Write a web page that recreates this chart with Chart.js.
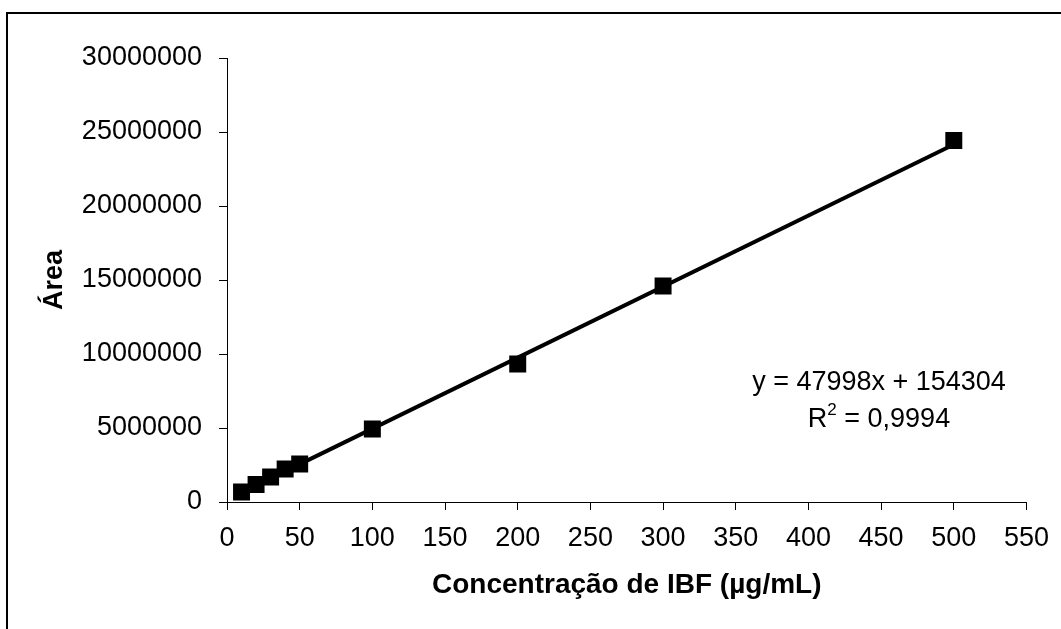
<!DOCTYPE html>
<html>
<head>
<meta charset="utf-8">
<script src="https://cdn.jsdelivr.net/npm/chart.js@4"></script>
<style>
  body { margin: 0; background: #fff; }
  #curva { display: block; }
</style>
</head>
<body>
<canvas id="curva" width="1061" height="629"></canvas>
<script>
// Curva de calibração - IBF
const concentracao = [10, 20, 30, 40, 50, 100, 200, 300, 500];
const area = [680000, 1180000, 1690000, 2230000, 2570000, 4930000, 9320000, 14600000, 24430000];

// linha de tendência (equação mostrada no gráfico)
const inclinacao = 47998;
const intercepto = 154304;
const r2Texto = "0,9994";
const trendX = [10, 500];

const fonte = "'Liberation Sans', Arial, sans-serif";

const pontos = concentracao.map((c, i) => ({ x: c, y: area[i] }));
const tendencia = trendX.map((x) => ({ x: x, y: inclinacao * x + intercepto }));

// moldura e equação
const extras = {
  id: "extras",
  beforeDraw(chart) {
    const ctx = chart.ctx;
    ctx.save();
    ctx.fillStyle = "#fff";
    ctx.fillRect(0, 0, chart.width, chart.height);
    ctx.strokeStyle = "#000";
    ctx.lineWidth = 2;
    ctx.strokeRect(7, 13, 1200, 800);
    ctx.restore();
  },
  afterDraw(chart) {
    const ctx = chart.ctx;
    ctx.save();
    ctx.fillStyle = "#000";
    ctx.textBaseline = "middle";
    ctx.textAlign = "center";
    ctx.font = "27px " + fonte;
    ctx.fillText("y = " + inclinacao + "x + " + intercepto, 879, 383);

    // R² com expoente
    const resto = " = " + r2Texto;
    const wR = ctx.measureText("R").width;
    const wResto = ctx.measureText(resto).width;
    ctx.font = "17px " + fonte;
    const w2 = ctx.measureText("2").width;
    const total = wR + w2 + wResto;
    let x = 879 - total / 2;
    ctx.textAlign = "left";
    ctx.font = "27px " + fonte;
    ctx.fillText("R", x, 420);
    ctx.font = "17px " + fonte;
    ctx.fillText("2", x + wR, 410);
    ctx.font = "27px " + fonte;
    ctx.fillText(resto, x + wR + w2, 420);
    ctx.restore();
  },
};

new Chart(document.getElementById("curva"), {
  type: "scatter",
  data: {
    datasets: [
      {
        type: "line",
        data: tendencia,
        borderColor: "#000",
        borderWidth: 4,
        pointRadius: 0,
        fill: false,
        order: 2,
      },
      {
        data: pontos,
        pointStyle: "rect",
        pointRadius: 12,
        backgroundColor: "#000",
        borderColor: "#000",
        borderWidth: 0,
        order: 1,
      },
    ],
  },
  options: {
    responsive: false,
    animation: false,
    layout: {
      padding: { left: 0, top: 58, right: 34, bottom: 0 },
    },
    plugins: {
      legend: { display: false },
      tooltip: { enabled: false },
    },
    scales: {
      x: {
        type: "linear",
        min: 0,
        max: 550,
        afterFit(scale) {
          scale.height = 127;
        },
        ticks: {
          stepSize: 50,
          color: "#000",
          padding: 12,
          maxRotation: 0,
          font: { family: fonte, size: 27 },
        },
        grid: { drawOnChartArea: false, tickLength: 8, color: "#000" },
        border: { color: "#000", width: 1 },
        title: {
          display: true,
          text: "Concentração de IBF (µg/mL)",
          color: "#000",
          font: { family: fonte, size: 28, weight: "bold" },
          padding: { top: 0, bottom: 27 },
        },
      },
      y: {
        type: "linear",
        min: 0,
        max: 30000000,
        afterFit(scale) {
          scale.width = 227;
        },
        ticks: {
          stepSize: 5000000,
          color: "#000",
          padding: 17,
          callback: (v) => String(v),
          font: { family: fonte, size: 27 },
        },
        grid: { drawOnChartArea: false, tickLength: 8, color: "#000" },
        border: { color: "#000", width: 1 },
        title: {
          display: true,
          text: "Área",
          color: "#000",
          font: { family: fonte, size: 27, weight: "bold" },
          padding: { top: 38, bottom: 0 },
        },
      },
    },
  },
  plugins: [extras],
});
</script>
</body>
</html>
